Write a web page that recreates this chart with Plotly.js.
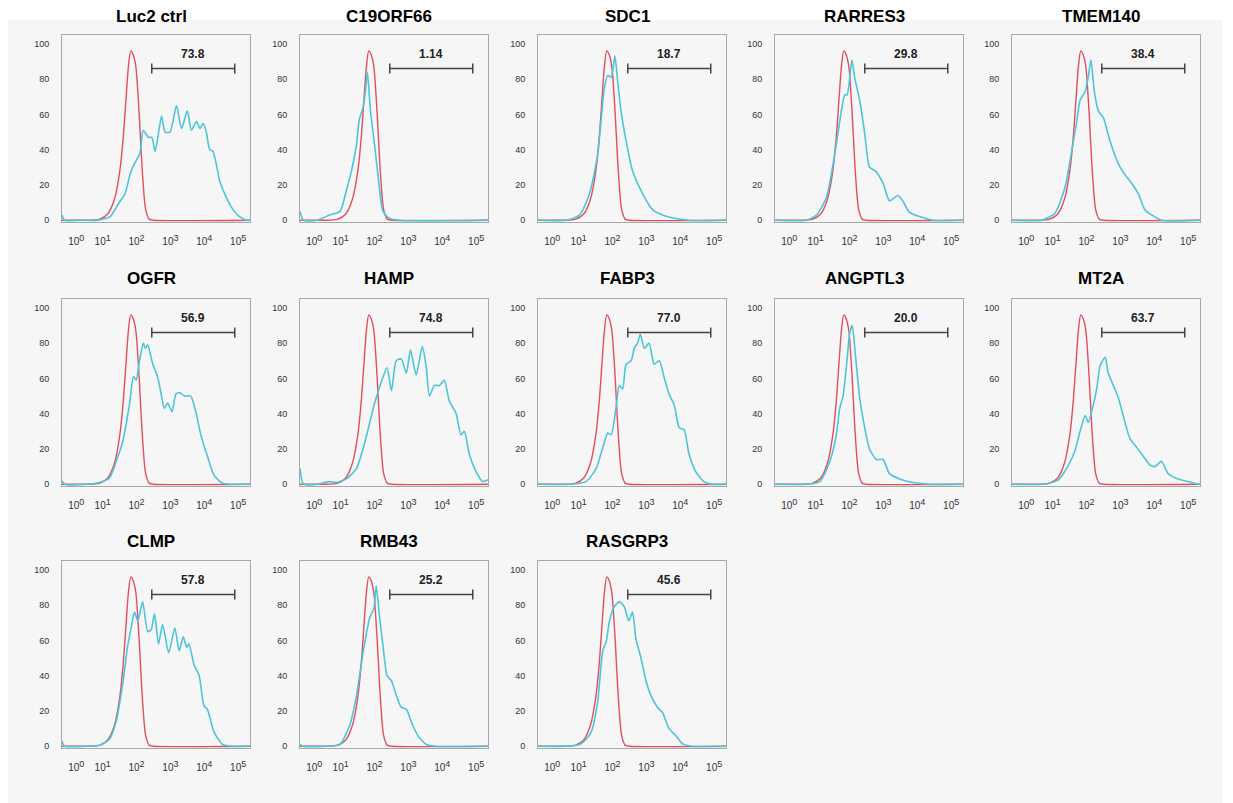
<!DOCTYPE html>
<html>
<head>
<meta charset="utf-8">
<script src="https://cdn.plot.ly/plotly-3.0.1.min.js"></script>
<style>html,body{margin:0;padding:0;background:#fff;}#chart{width:1233px;height:803px;}</style>
</head>
<body>
<div id="chart"></div>
<script>
// ---------- DATA (x in log10 decades of fluorescence, y = % of max) ----------
const panelTitles = ['Luc2 ctrl','C19ORF66','SDC1','RARRES3','TMEM140','OGFR','HAMP','FABP3','ANGPTL3','MT2A','CLMP','RMB43','RASGRP3'];
const gatePercents = ['73.8','1.14','18.7','29.8','38.4','56.9','74.8','77.0','20.0','63.7','57.8','25.2','45.6'];
const xTickExponents = ['0','1','2','3','4','5'];
const yTickValues = [0,20,40,60,80,100];
const gateStart = 2.45, gateEnd = 4.9, gateLevel = 86;

// isotype control (red), same in every panel
const controlX = [-0.2,0.5,0.9,1.15,1.35,1.5,1.6,1.68,1.76,1.83,1.9,1.98,2.07,2.17,2.27,2.38,2.5,5.35];
const controlY = [0,0,0.5,3.5,12,27,45,66,87,96,94,87,63,28,6,0.5,0,0];

// stained samples (cyan)
const luc2X = [-0.2,-0.12,0.3,0.83,1.22,1.47,1.66,1.81,1.91,2.1,2.2,2.35,2.45,2.55,2.74,2.84,2.99,3.18,3.33,3.5,3.62,3.77,3.87,3.97,4.06,4.16,4.26,4.46,4.65,4.85,5.04,5.24,5.35];
const luc2Y = [3,0,0,0,2,9.5,15,26,31,38,51,47,47,39,59,50,50,65,52,62,51,56,52,55,50,40,39,22,13,6,2,0,0];
const c19X = [-0.2,-0.1,0.3,0.68,0.98,1.17,1.32,1.47,1.55,1.66,1.73,1.79,1.88,2.0,2.1,2.25,2.45,2.74,5.35];
const c19Y = [5,0,0,3,5,17,28,43,57,64,73,84,62,43,26,5,1,0,0];
const sdc1X = [-0.2,0.63,1.03,1.32,1.56,1.76,1.86,1.96,2.07,2.15,2.25,2.4,2.59,2.89,3.18,3.48,3.87,4.26,5.35];
const sdc1Y = [0,0,3,15,37,75,82,81,93,79,62,45,28,15,6,3,1,0,0];
const rarres3X = [-0.2,0.73,1.03,1.32,1.56,1.76,1.86,1.93,2.07,2.15,2.3,2.45,2.59,2.76,2.99,3.18,3.43,3.57,3.77,4.16,4.46,5.35];
const rarres3Y = [0,0,3,13,37,62,71,71,91,81,68,49,30,28,21,11,14,11,4.5,1.5,0,0];
const tmem140X = [-0.2,0.68,1.07,1.37,1.56,1.71,1.81,1.96,2.05,2.13,2.23,2.35,2.5,2.69,2.94,3.13,3.33,3.53,3.72,3.92,4.21,5.35];
const tmem140Y = [0,0,4,19,39,56,68,73,81,91,73,62,58,45,32,26,21,15,6,3,0,0];
const ogfrX = [-0.2,-0.12,0.52,0.91,1.2,1.4,1.59,1.79,1.91,1.99,2.08,2.2,2.26,2.33,2.48,2.62,2.72,2.82,2.92,3.05,3.16,3.28,3.41,3.6,3.75,3.9,4.09,4.29,4.54,4.83,5.35];
const ogfrY = [2,0,0,1,3.5,13,24,45,61,59,69,80,77,79,68,61,52,43,46,41,51,52,50,50,41,28,16,5,0.5,0,0];
const hampX = [-0.2,-0.1,0.29,0.68,0.88,1.17,1.47,1.66,1.81,1.91,2.05,2.2,2.37,2.5,2.64,2.79,2.94,3.06,3.23,3.41,3.53,3.62,3.77,3.92,4.06,4.21,4.41,4.55,4.65,4.8,5.0,5.19,5.35];
const hampY = [9,0,0,1.5,1,3,9,20,31,39,49,58,66,53,70,71,63,76,62,78,66,50,56,56,59,47,40,28,30,17,7,1.5,2.5];
const fabp3X = [-0.2,0.73,1.22,1.52,1.76,1.86,1.96,2.1,2.2,2.3,2.4,2.55,2.64,2.74,2.82,2.94,3.08,3.23,3.38,3.53,3.67,3.82,3.97,4.11,4.26,4.46,4.7,4.95,5.35];
const fabp3Y = [0,0,1.5,9,24,29,28,43,56,54,68,70,77,80,85,77,80,68,70,60,51,45,32,31,17,7,1.5,0,0];
const angptl3X = [-0.2,0.73,1.12,1.42,1.61,1.71,1.81,1.93,2.0,2.08,2.17,2.3,2.4,2.59,2.79,2.99,3.18,3.48,3.87,4.36,5.35];
const angptl3Y = [0,0,1.5,13,28,43,50,71,85,90,74,49,37,20,14,14,6,3,1,0,0];
const mt2aX = [-0.2,0.68,1.17,1.47,1.66,1.81,1.96,2.05,2.2,2.3,2.4,2.55,2.64,2.79,2.94,3.08,3.28,3.48,3.67,3.87,4.02,4.21,4.41,4.7,5.0,5.29,5.35];
const mt2aY = [0,0,2.5,11,19,30,39,35,45,54,67,72,63,56,49,39,26,21,16,11,10,13,6,3,1.5,0,0];
const clmpX = [-0.2,-0.12,0.52,0.91,1.2,1.4,1.59,1.74,1.84,1.94,2.04,2.18,2.33,2.43,2.53,2.65,2.77,2.95,3.13,3.26,3.38,3.48,3.55,3.7,3.85,3.99,4.09,4.29,4.54,4.83,5.35];
const clmpY = [3,0,0,0.5,4,14,35,57,67,76,71,82,65,66,75,58,69,53,67,54,62,56,58,46,40,23,21,8,1,0,0];
const rmb43X = [-0.2,-0.12,0.58,0.98,1.27,1.47,1.66,1.86,1.98,2.05,2.15,2.25,2.37,2.5,2.64,2.79,2.94,3.08,3.28,3.53,3.82,5.35];
const rmb43Y = [1,0,0,1,12,29,53,73,78,91,73,57,40,37,29,22,21,14,6,1,0,0];
const rasgrp3X = [-0.2,0.63,1.03,1.22,1.37,1.56,1.71,1.81,1.91,2.05,2.2,2.35,2.48,2.59,2.69,2.84,2.99,3.13,3.33,3.48,3.67,3.87,4.06,4.36,5.35];
const rasgrp3Y = [0,0,1,4,8,25,54,59,71,79,82,79,71,76,61,50,37,29,22,19,10,6,1.5,0,0];

const sampleX = [luc2X,c19X,sdc1X,rarres3X,tmem140X,ogfrX,hampX,fabp3X,angptl3X,mt2aX,clmpX,rmb43X,rasgrp3X];
const sampleY = [luc2Y,c19Y,sdc1Y,rarres3Y,tmem140Y,ogfrY,hampY,fabp3Y,angptl3Y,mt2aY,clmpY,rmb43Y,rasgrp3Y];

// ---------- LAYOUT ----------
const FW = 1233, FH = 803;
const colLefts = [62,300,538,775,1012];
const rowTops = [35,299,561];
const titleYs = [17,278,541];
const PW = 188, PH = 187;
const FONT = 'Liberation Sans, Arial, Helvetica, sans-serif';
const RED = '#e0505c', CYAN = '#4cc5d9';
const xTickText = xTickExponents.map(e => '10<sup><span style="font-size:9px">' + e + '</span></sup>');

const traces = [];
const layout = {
  width: FW, height: FH, autosize: false,
  margin: {l:0, r:0, t:0, b:0},
  paper_bgcolor: '#ffffff',
  plot_bgcolor: '#fafafa',
  showlegend: false,
  font: {family: FONT, color: '#333'},
  annotations: [],
  shapes: [{type:'rect', xref:'paper', yref:'paper', x0:8/FW, x1:1222/FW, y0:0, y1:1-20/FH,
            fillcolor:'#f6f6f6', line:{width:0}, layer:'below'}]
};

panelTitles.forEach((name, i) => {
  const row = Math.floor(i/5), col = i%5;
  const sfx = i === 0 ? '' : String(i+1);
  const xa = 'x'+sfx, ya = 'y'+sfx;
  const left = colLefts[col], top = rowTops[row];
  layout['xaxis'+sfx] = {
    domain: [left/FW, (left+PW)/FW], anchor: ya, range: [-0.2, 5.35],
    showline: true, mirror: true, linecolor: '#a8a8a8', linewidth: 1,
    showgrid: false, zeroline: false, ticks: '',
    tickvals: [0.22,1,2,3,4,5], ticktext: xTickText,
    tickfont: {size: 10, color: '#333', family: FONT}, ticklabelstandoff: 10, fixedrange: true
  };
  layout['yaxis'+sfx] = {
    domain: [1-(top+PH)/FH, 1-top/FH], anchor: xa, range: [-1, 105],
    showline: true, mirror: true, linecolor: '#a8a8a8', linewidth: 1,
    showgrid: false, zeroline: false, ticks: '',
    tickvals: yTickValues, tickfont: {size: 9, color: '#333', family: FONT},
    ticklabelstandoff: 10, fixedrange: true
  };
  traces.push({x: controlX, y: controlY, xaxis: xa, yaxis: ya, type: 'scatter', mode: 'lines',
               line: {color: RED, width: 1.4, shape: 'spline', smoothing: 0.7}, hoverinfo: 'skip'});
  traces.push({x: sampleX[i], y: sampleY[i], xaxis: xa, yaxis: ya, type: 'scatter', mode: 'lines',
               line: {color: CYAN, width: 1.6, shape: 'spline', smoothing: 0.6}, hoverinfo: 'skip'});
  traces.push({x: [gateStart, gateEnd], y: [gateLevel, gateLevel], xaxis: xa, yaxis: ya, type: 'scatter',
               mode: 'lines+markers', line: {color: '#444', width: 1.5},
               marker: {symbol: 'line-ns-open', size: 7, line: {color: '#444', width: 1.5}}, hoverinfo: 'skip'});
  layout.annotations.push({xref: xa, yref: ya, x: (gateStart+gateEnd)/2, y: 94.5,
    text: '<b>'+gatePercents[i]+'</b>', showarrow: false, font: {size: 12, color: '#222', family: FONT}});
  layout.annotations.push({xref: 'paper', yref: 'paper', x: (left+PW/2-5)/FW, y: 1-titleYs[row]/FH,
    xanchor: 'center', yanchor: 'middle', text: '<b>'+name+'</b>', showarrow: false,
    font: {size: 17, color: '#000', family: FONT}});
});

Plotly.newPlot('chart', traces, layout, {displayModeBar: false, staticPlot: true});
</script>
</body>
</html>
